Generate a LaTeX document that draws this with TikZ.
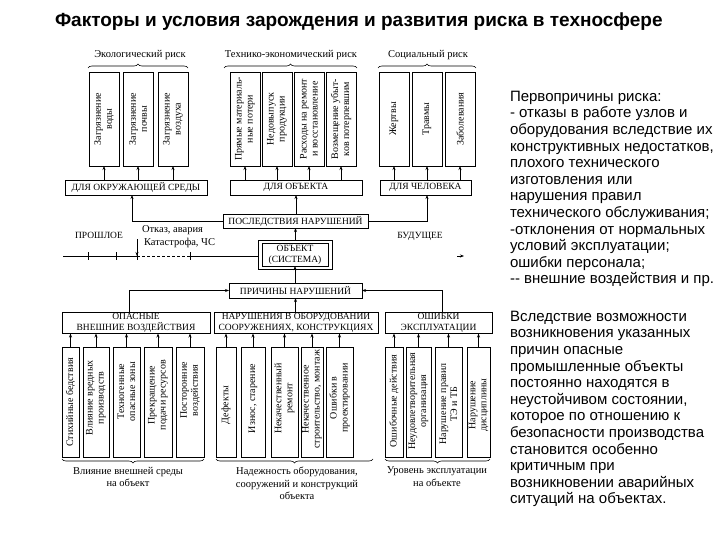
\documentclass[tikz,border=0pt]{standalone}
\usepackage{fontspec}
\setmainfont{Liberation Serif}
\newfontfamily\sansf{Liberation Sans}
\usetikzlibrary{arrows.meta,decorations.pathreplacing}
\begin{document}
\begin{tikzpicture}[x=1pt,y=-1pt,
  every node/.style={inner sep=0pt, outer sep=0pt},
  bx/.style={draw, line width=0.7pt},
  caps/.style={font=\fontsize{9.5}{11}\selectfont, align=center},
  capt/.style={font=\fontsize{9.5}{10.5}\selectfont, align=center},
  lbl/.style={font=\fontsize{10.5}{12.5}\selectfont, align=center},
  vt/.style={font=\fontsize{10}{11}\selectfont, rotate=90, align=center},
  arr/.style={line width=0.7pt, -{Stealth[length=4pt,width=3pt]}},
  ln/.style={line width=0.7pt},
  brc/.style={decorate, decoration={brace, amplitude=4pt}, line width=0.6pt},
  rtxt/.style={font=\sansf\fontsize{15}{16.6}\selectfont, align=left, anchor=north west},
]
\path[fill=white] (0,0) rectangle (720,540);
\useasboundingbox (0,0) rectangle (720,540);

% title
\node[font=\sansf\bfseries\fontsize{19}{22}\selectfont, anchor=west] (title) at (55,22) {Факторы и условия зарождения и развития риска в техносфере};

% ---------- top group labels and braces
\node[lbl] (ecol) at (140,55) {Экологический риск};
\node[lbl] (tecl) at (291,55) {Технико-экономический риск};
\node[lbl] (socl) at (428,55) {Социальный риск};
\draw[brc] (88,68) -- (188,68);
\draw[brc] (224,68) -- (357,68);
\draw[brc] (378,68) -- (476,68);

% ---------- top vertical boxes
\foreach \n/\cx in {e1/104,e2/138,e3/173,t1/245,t2/277,t3/309,t4/341,s1/394,s2/427,s3/460}{
  \node[bx, minimum width=30pt, minimum height=94pt] (\n) at (\cx,119) {};
}
\node[vt] (e1t) at (e1) {Загрязнение\\воды};
\node[vt] (e2t) at (e2) {Загрязнение\\почвы};
\node[vt] (e3t) at (e3) {Загрязнение\\воздуха};
\node[vt] (t1t) at (t1) {Прямые материаль-\\ные потери};
\node[vt] (t2t) at (t2) {Недовыпуск\\продукции};
\node[vt] (t3t) at (t3) {Расходы на ремонт\\и восстановление};
\node[vt] (t4t) at (t4) {Возмещение убыт-\\ков потерпевшим};
\node[vt] (s1t) at (s1) {Жертвы};
\node[vt] (s2t) at (s2) {Травмы};
\node[vt] (s3t) at (s3) {Заболевания};

% ---------- "for" boxes
\node[bx, caps, minimum width=142pt, minimum height=15pt] (env) at (136,187.5) {ДЛЯ ОКРУЖАЮЩЕЙ СРЕДЫ};
\node[bx, caps, minimum width=132pt, minimum height=15pt] (obj) at (296,187.5) {ДЛЯ ОБЪЕКТА};
\node[bx, caps, minimum width=91pt, minimum height=15pt] (hum) at (425.5,187.5) {ДЛЯ ЧЕЛОВЕКА};
\foreach \n in {e1,e2,e3}{\draw[arr] (env.north -| \n) -- (\n.south);}
\foreach \n in {t1,t2,t3,t4}{\draw[arr] (obj.north -| \n) -- (\n.south);}
\foreach \n in {s1,s2,s3}{\draw[arr] (hum.north -| \n) -- (\n.south);}

% ---------- consequences
\node[bx, caps, minimum width=145pt, minimum height=14pt] (posl) at (295.5,221) {ПОСЛЕДСТВИЯ НАРУШЕНИЙ};
\draw[arr] (posl.west) -| ([xshift=-4pt]env.south);
\draw[arr] (posl.east) -| ([xshift=1.5pt]hum.south);
\draw[arr] (posl.north -| obj) -- (obj.south);

% ---------- object
\node[bx, minimum width=74pt, minimum height=29pt] (objo) at (295,254.5) {};
\node[bx, caps, minimum width=66pt, minimum height=23pt] (objekt) at (295,254.5) {ОБЪЕКТ\\(СИСТЕМА)};
\draw[arr] (objo.north -| posl) -- (posl.south);

% ---------- timeline
\coordinate (tl0) at (63,256);
\coordinate (tla) at (137,256);
\coordinate (tlb) at (190,256);
\coordinate (tarr) at (137,239);
\draw[ln] (tl0) -- (tla);
\draw[ln, dashed, dash pattern=on 3pt off 2pt] (tla) -- (tlb);
\draw[ln] (tlb) -- (tlb -| objo.west);
\foreach \tx in {88,116,137,190}{\draw[ln] (\tx,252) -- (\tx,260);}
\draw[arr] (tarr) -- (tla);
\node[lbl, anchor=west] (otk) at (142,230) {Отказ, авария};
\node[lbl, anchor=west] (kat) at (144,243) {Катастрофа, ЧС};
\node[caps] (past) at (99,235) {ПРОШЛОЕ};
\node[caps] (fut) at (420,236) {БУДУЩЕЕ};
\coordinate (fa) at (457,256);
\coordinate (fb) at (464,256);
\draw[arr] (fa) -- (fb);

% ---------- causes
\node[bx, caps, minimum width=133pt, minimum height=15pt] (prich) at (295.5,290.5) {ПРИЧИНЫ НАРУШЕНИЙ};
\draw[arr] (prich.north -| objekt) -- (objekt.south);

% ---------- cause groups
\node[bx, capt, minimum width=148pt, minimum height=21pt] (op) at (136,323) {ОПАСНЫЕ\\ВНЕШНИЕ ВОЗДЕЙСТВИЯ};
\node[bx, capt, minimum width=164pt, minimum height=21pt] (nar) at (296,323) {НАРУШЕНИЯ В ОБОРУДОВАНИИ\\СООРУЖЕНИЯХ, КОНСТРУКЦИЯХ};
\node[bx, capt, minimum width=107pt, minimum height=21pt] (osh) at (438.5,323) {ОШИБКИ\\ЭКСПЛУАТАЦИИ};
\draw[arr] ([xshift=-7pt]op.north) |- (prich.west);
\draw[arr] (nar.north -| prich) -- (prich.south);
\draw[arr] ([xshift=4pt]osh.north) |- (prich.east);

% ---------- bottom vertical boxes
\foreach \n/\cx/\w in {a1/70.5/17,a2/96/26,a3/126.5/27,a4/158/28,a5/190/28,
                        b1/226/20,b2/253/24,b3/284.5/27,b4/312/22,b5/339.5/27,
                        c1/394/18,c2/418.5/25,c3/448.5/27,c4/478.5/23}{
  \node[bx, minimum width=\w pt, minimum height=110pt] (\n) at (\cx,402) {};
}
\foreach \n in {a1,a2,a3,a4,a5}{\draw[arr] (\n.north) -- (\n.north |- op.south);}
\foreach \n in {b1,b2,b3,b4,b5}{\draw[arr] (\n.north) -- (\n.north |- nar.south);}
\foreach \n in {c1,c2,c3,c4}{\draw[arr] (\n.north) -- (\n.north |- osh.south);}

\node[vt, anchor=east] (a1t) at (70.5,358) {Стихийные бедствия};
\node[vt, anchor=east] (a2t) at (96,360) {Влияние вредных\\производств};
\node[vt, anchor=east] (a3t) at (126.5,362) {Техногенные\\опасные зоны};
\node[vt, anchor=east] (a4t) at (158,360) {Прекращение\\подачи ресурсов};
\node[vt, anchor=east] (a5t) at (190,362) {Посторонние\\воздействия};

\node[vt] (b1t) at (226,405) {Дефекты};
\node[vt, anchor=east] (b2t) at (253,364) {Износ, старение};
\node[vt, anchor=east] (b3t) at (284.5,363) {Некачественный\\ремонт};
\node[vt, anchor=east] (b4t) at (312,350) {Некачественное\\строительство, монтаж};
\node[vt, anchor=east] (b5t) at (339.5,363) {Ошибки в\\проектировании};

\node[vt] (c1t) at (394,401) {Ошибочные действия};
\node[vt] (c2t) at (418.5,401) {Неудовлетворительная\\организация};
\node[vt] (c3t) at (448.5,404) {Нарушение правил\\ТЭ и ТБ};
\node[vt] (c4t) at (478.5,405) {Нарушение\\дисциплины};

% ---------- bottom braces and labels
\draw[brc] (204,459) -- (62,459);
\draw[brc] (373,459) -- (216,459);
\draw[brc] (490,459) -- (385,459);
\node[lbl, anchor=north] (al) at (128,467) {Влияние внешней среды\\на объект};
\node[lbl, anchor=north] (bl) at (297,467) {Надежность оборудования,\\сооружений и конструкций\\объекта};
\node[lbl, anchor=north] (cl) at (437,467) {Уровень эксплуатации\\на объекте};

% ---------- right-hand text
\node[rtxt] (r1) at (510,91) {Первопричины риска:\\
- отказы в работе узлов и\\
оборудования вследствие их\\
конструктивных недостатков,\\
плохого технического\\
изготовления или\\
нарушения правил\\
технического обслуживания;\\
-отклонения от нормальных\\
условий эксплуатации;\\
ошибки персонала;\\
-- внешние воздействия и пр.};
\node[rtxt] (r2) at (510,311) {Вследствие возможности\\
возникновения указанных\\
причин опасные\\
промышленные объекты\\
постоянно находятся в\\
неустойчивом состоянии,\\
которое по отношению к\\
безопасности производства\\
становится особенно\\
критичным при\\
возникновении аварийных\\
ситуаций на объектах.};
\end{tikzpicture}
\end{document}
